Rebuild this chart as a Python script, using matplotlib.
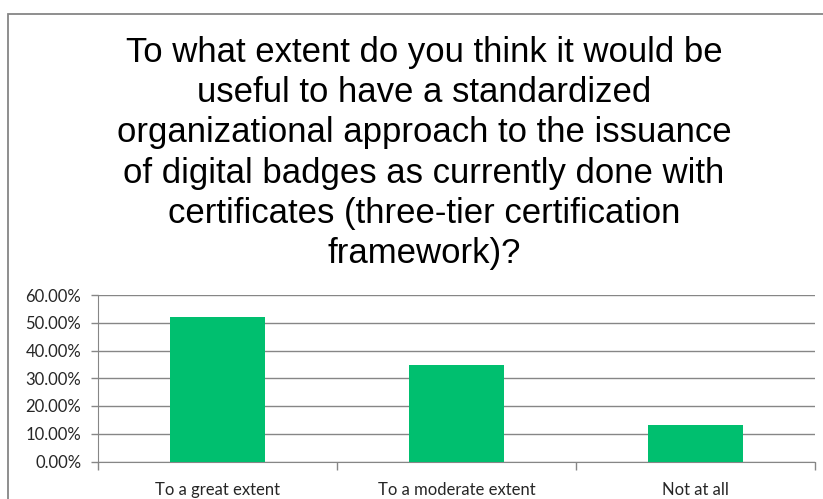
import matplotlib
matplotlib.use("Agg")
import matplotlib.pyplot as plt
from matplotlib.patches import Rectangle
from matplotlib.ticker import FuncFormatter, MultipleLocator

categories = ["To a great extent", "To a moderate extent", "Not at all"]
values = [52.17, 34.78, 13.04]
title_lines = [
    "To what extent do you think it would be",
    "useful to have a standardized",
    "organizational approach to the issuance",
    "of digital badges as currently done with",
    "certificates (three-tier certification",
    "framework)?",
]

W, H = 823, 499
fig = plt.figure(figsize=(W / 100, H / 100), dpi=100)
fig.patch.set_facecolor("white")

# chart frame
fig.patches.append(Rectangle((8 / W, -0.1), 1.2, (H - 14) / H + 0.1, transform=fig.transFigure,
                             fill=False, edgecolor="#868686", linewidth=1.3))

for i, line in enumerate(title_lines):
    fig.text(424 / W, 1 - (62 + 40.2 * i) / H, line, ha="center", va="baseline",
             fontsize=25, family="Liberation Sans", color="black")

ax = fig.add_axes([98 / W, 1 - 461.5 / H, (815 - 98) / W, (461.5 - 295) / H])
x = range(len(categories))
ax.bar(x, values, width=0.4, color="#00BF6F", zorder=3)
ax.set_xlim(-0.5, len(categories) - 0.5)
ax.set_ylim(0, 60)
ax.yaxis.set_major_locator(MultipleLocator(10))
ax.yaxis.set_major_formatter(FuncFormatter(lambda v, p: f"{v:.2f}%"))
ax.grid(axis="y", color="#868686", linewidth=1.0, zorder=0)
ax.set_xticks([-0.5, 0.5, 1.5, 2.5])
ax.set_xticklabels([])
ax.set_xticks(list(x), minor=True)
ax.set_xticklabels(categories, minor=True)
ax.tick_params(axis="x", which="major", length=6, width=1.0, color="#868686", direction="out")
ax.tick_params(axis="x", which="minor", length=0, pad=15, labelsize=12, labelcolor="#262626")
ax.tick_params(axis="y", length=5, width=1.0, color="#868686", pad=7, labelsize=12, labelcolor="#262626")
for lab in ax.get_yticklabels() + ax.get_xticklabels(minor=True):
    lab.set_family("Lato")
for s in ["top", "right"]:
    ax.spines[s].set_visible(False)
ax.spines["left"].set_color("#868686")
ax.spines["bottom"].set_color("#868686")
ax.set_facecolor("none")

fig.savefig("out.png", dpi=100)
